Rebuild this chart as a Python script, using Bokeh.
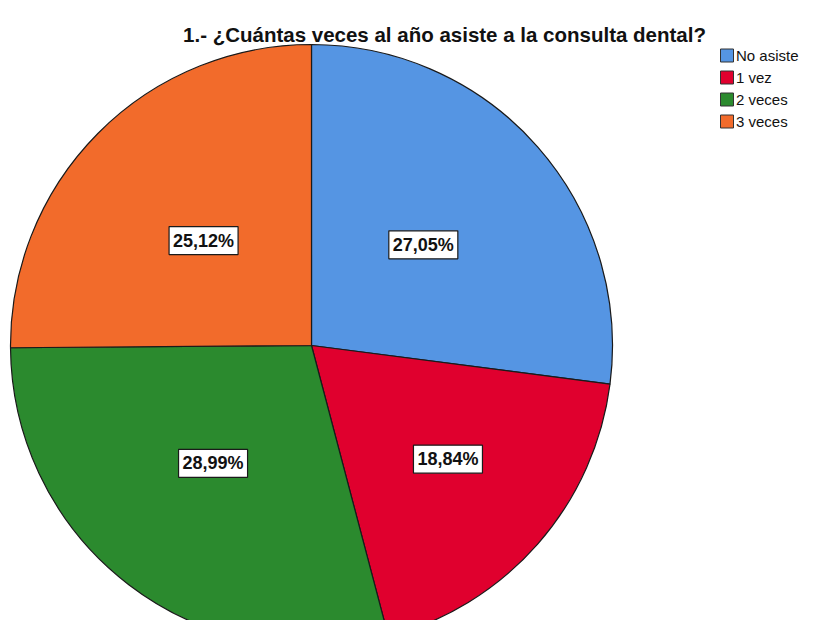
import math
from bokeh.plotting import figure
from bokeh.models import Range1d, ColumnDataSource
from bokeh.core.properties import value
from bokeh.embed import file_html
from bokeh.resources import INLINE

# ---- data ----
title_text = "1.- ¿Cuántas veces al año asiste a la consulta dental?"
categories = ["No asiste", "1 vez", "2 veces", "3 veces"]
percentages = [27.05, 18.84, 28.99, 25.12]
label_texts = ["27,05%", "18,84%", "28,99%", "25,12%"]

# ---- style ----
colors = ["#5595e3", "#e0002e", "#2b8a2e", "#f26b2b"]
label_radius_frac = [0.50, 0.59, 0.51, 0.50]
label_angle_shift = [-0.7, -1.5, 2.5, -0.6]   # degrees (clockwise)

W, H = 801, 620
p = figure(width=W, height=H, output_backend="svg", toolbar_location=None,
           x_range=Range1d(0, W), y_range=Range1d(0, H),
           x_axis_location=None, y_axis_location=None, min_border=0)
p.grid.visible = False
p.outline_line_color = None
p.background_fill_color = "white"

# pie geometry (screen-pixel data units)
cx, cy, R = 311, H - 345, 301

total = sum(percentages)
starts, ends, mids = [], [], []
cum = 0.0
for v in percentages:
    a0 = math.pi / 2 - 2 * math.pi * cum / total
    cum += v
    a1 = math.pi / 2 - 2 * math.pi * cum / total
    starts.append(a0)
    ends.append(a1)
    mids.append((a0 + a1) / 2)

src = ColumnDataSource(dict(x=[cx] * 4, y=[cy] * 4, start=starts, end=ends,
                            color=colors, cat=categories))
p.wedge(x="x", y="y", radius=R, start_angle="start", end_angle="end",
        direction="clock", fill_color="color", line_color="#1a1a1a",
        line_width=1.2, source=src)

# labels
lx, ly = [], []
for m, f, sh in zip(mids, label_radius_frac, label_angle_shift):
    a = m - math.radians(sh)
    lx.append(cx + f * R * math.cos(a))
    ly.append(cy + f * R * math.sin(a))
lsrc = ColumnDataSource(dict(x=lx, y=ly, t=label_texts))
p.rect(x="x", y="y", width=69, height=28, fill_color="white",
       line_color="#1a1a1a", line_width=1.2, source=lsrc)
p.text(x="x", y="y", text="t", text_font=value("Liberation Sans"),
       text_font_style="bold", text_font_size="18px", text_color="#111111",
       text_align="center", text_baseline="middle", source=lsrc)

# title
p.text(x=[444], y=[H - 34], text=[title_text], text_font=value("Liberation Sans"),
       text_font_style="bold", text_font_size="20.5px", text_color="#111111",
       text_align="center", text_baseline="alphabetic")

# legend
leg_x = 726.5
leg_y0 = H - 55
step = 22
ly_leg = [leg_y0 - i * step for i in range(len(categories))]
legsrc = ColumnDataSource(dict(x=[leg_x] * 4, y=ly_leg, color=colors,
                               tx=[leg_x + 9] * 4, cat=categories))
p.rect(x="x", y="y", width=13, height=13, fill_color="color",
       line_color="#333333", line_width=1, source=legsrc)
p.text(x="tx", y="y", text="cat", text_font=value("Liberation Sans"),
       text_font_size="15px", text_color="#111111", text_align="left",
       text_baseline="middle", source=legsrc)

open("out.html", "w").write(file_html(p, INLINE))
